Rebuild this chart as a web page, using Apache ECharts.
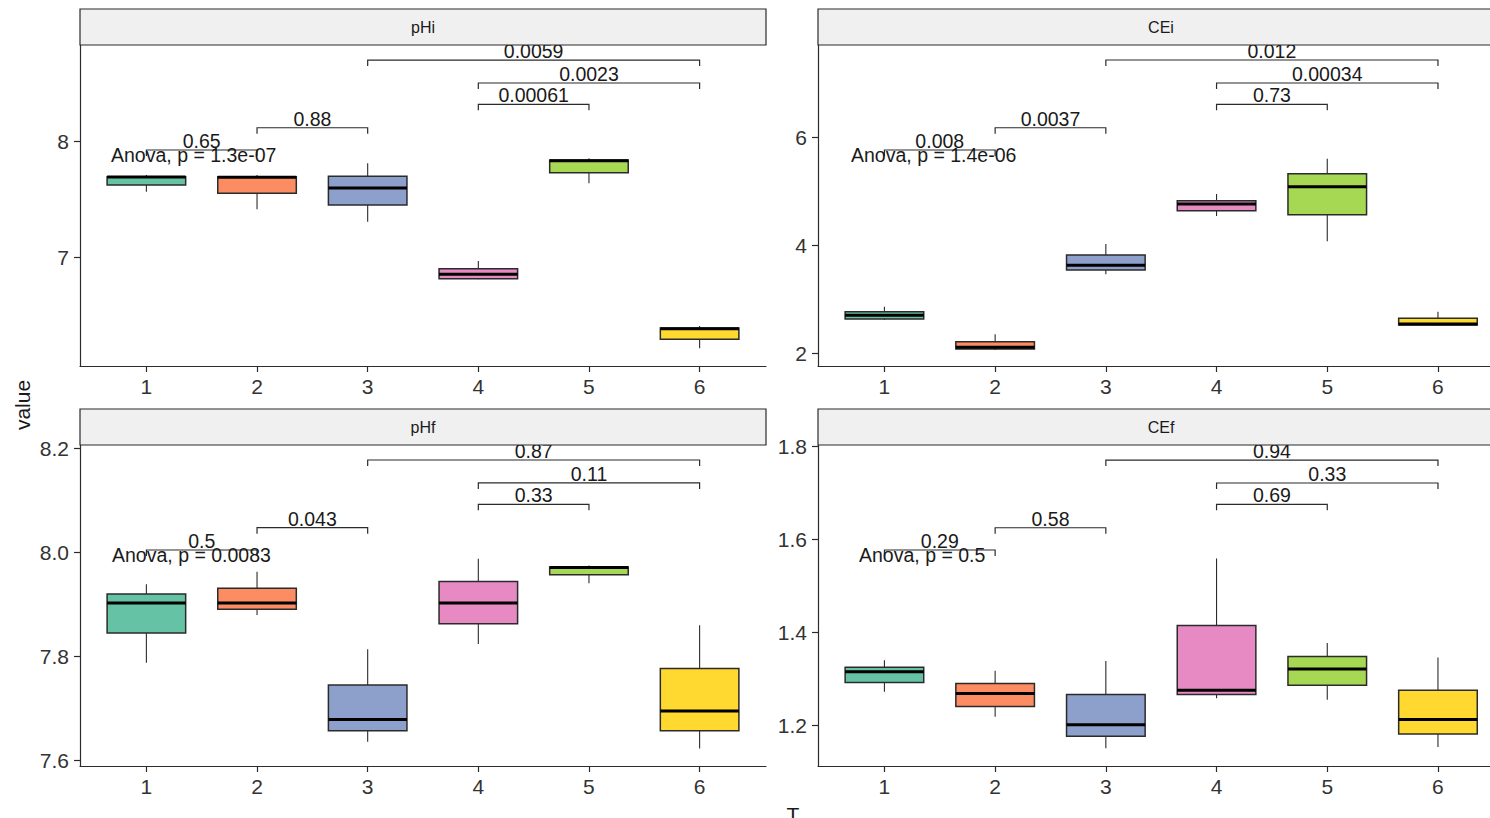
<!DOCTYPE html>
<html>
<head>
<meta charset="utf-8">
<script src="https://cdn.jsdelivr.net/npm/echarts@6/dist/echarts.min.js"></script>
<style>
html,body{margin:0;padding:0;background:#fff;}
#chart{width:1490px;height:818px;}
</style>
</head>
<body>
<div id="chart"></div>
<script>
// ---------- DATA ----------
const categories = ['1', '2', '3', '4', '5', '6'];
const boxColors = ['#66C2A5', '#FC8D62', '#8DA0CB', '#E78AC3', '#A6D854', '#FFD92F'];
const panelNames = ['pHi', 'CEi', 'pHf', 'CEf'];

// box stats per category: [lower whisker, Q1, median, Q3, upper whisker]
const pHiStats = [
  [7.565, 7.622, 7.691, 7.694, 7.708],
  [7.414, 7.551, 7.688, 7.694, 7.708],
  [7.307, 7.451, 7.597, 7.697, 7.809],
  [6.813, 6.818, 6.856, 6.904, 6.970],
  [7.637, 7.728, 7.831, 7.837, 7.852],
  [6.221, 6.298, 6.389, 6.395, 6.412]
];
const CEiStats = [
  [2.620, 2.639, 2.707, 2.774, 2.867],
  [2.065, 2.083, 2.115, 2.219, 2.356],
  [3.467, 3.546, 3.633, 3.824, 4.028],
  [4.546, 4.644, 4.769, 4.830, 4.954],
  [4.078, 4.570, 5.089, 5.330, 5.607],
  [2.519, 2.528, 2.546, 2.652, 2.774]
];
const pHfStats = [
  [7.788, 7.845, 7.903, 7.920, 7.939],
  [7.880, 7.891, 7.903, 7.931, 7.963],
  [7.636, 7.657, 7.679, 7.745, 7.814],
  [7.824, 7.863, 7.903, 7.944, 7.988],
  [7.941, 7.957, 7.971, 7.972, 7.975],
  [7.623, 7.657, 7.695, 7.777, 7.860]
];
const CEfStats = [
  [1.272, 1.292, 1.315, 1.325, 1.340],
  [1.218, 1.240, 1.268, 1.290, 1.317],
  [1.150, 1.176, 1.201, 1.266, 1.338],
  [1.258, 1.266, 1.275, 1.415, 1.559],
  [1.255, 1.286, 1.321, 1.348, 1.377],
  [1.153, 1.181, 1.212, 1.275, 1.346]
];

// pairwise comparisons (category positions) and their p-values / bracket heights
const comparisons = [[1, 2], [2, 3], [4, 5], [4, 6], [3, 6]];
const pHiPvals = ['0.65', '0.88', '0.00061', '0.0023', '0.0059'];
const CEiPvals = ['0.008', '0.0037', '0.73', '0.00034', '0.012'];
const pHfPvals = ['0.5', '0.043', '0.33', '0.11', '0.87'];
const CEfPvals = ['0.29', '0.58', '0.69', '0.33', '0.94'];
const pHiBracketY = [7.923, 8.114, 8.315, 8.498, 8.695];
const CEiBracketY = [5.769, 6.181, 6.615, 7.009, 7.435];
const pHfBracketY = [8.0048, 8.0477, 8.0927, 8.1337, 8.1779];
const CEfBracketY = [1.5774, 1.6254, 1.6759, 1.7218, 1.7713];

const anovaLabels = ['Anova, p = 1.3e-07', 'Anova, p = 1.4e-06', 'Anova, p = 0.0083', 'Anova, p = 0.5'];

// axis ranges and ticks
const pHiRange = [6.069, 8.824];
const CEiRange = [1.769, 7.713];
const pHfRange = [7.5894, 8.2067];
const CEfRange = [1.112, 1.8037];
const xRangeFull = [0.4, 6.6];      // full facet x range
const xRangeClipped = [0.4, 6.47];  // right facets: cut at the picture's right edge
const pHiTicks = [7, 8];
const pHiTickLabels = ['7', '8'];
const CEiTicks = [2, 4, 6];
const CEiTickLabels = ['2', '4', '6'];
const pHfTicks = [7.6, 7.8, 8.0, 8.2];
const pHfTickLabels = ['7.6', '7.8', '8.0', '8.2'];
const CEfTicks = [1.2, 1.4, 1.6, 1.8];
const CEfTickLabels = ['1.2', '1.4', '1.6', '1.8'];
const xTicks = [1, 2, 3, 4, 5, 6];

const xAxisTitle = 'T';
const yAxisTitle = 'value';

// ---------- LAYOUT / STYLE ----------
const FONT = '"Liberation Sans", Arial, Helvetica, sans-serif';
const BOX_WIDTH = 0.71;
const TIP = 6;
const gridPos = [
  {left: 80, top: 45, width: 686},
  {left: 818, top: 45, width: 672},
  {left: 80, top: 445, width: 686},
  {left: 818, top: 445, width: 672}
];
const GH = 321, STRIP_H = 36;
const anovaOffsets = [31, 33, 32, 41];

const panels = [
  {stats: pHiStats, pvals: pHiPvals, by: pHiBracketY, range: pHiRange, xr: xRangeFull, ticks: pHiTicks, labels: pHiTickLabels},
  {stats: CEiStats, pvals: CEiPvals, by: CEiBracketY, range: CEiRange, xr: xRangeClipped, ticks: CEiTicks, labels: CEiTickLabels},
  {stats: pHfStats, pvals: pHfPvals, by: pHfBracketY, range: pHfRange, xr: xRangeFull, ticks: pHfTicks, labels: pHfTickLabels},
  {stats: CEfStats, pvals: CEfPvals, by: CEfBracketY, range: CEfRange, xr: xRangeClipped, ticks: CEfTicks, labels: CEfTickLabels}
];

const AX = '#2b2b2b';

function boxRender(params, api) {
  const x = api.value(0);
  const lo = api.coord([x, api.value(1)]);
  const q1 = api.coord([x, api.value(2)]);
  const md = api.coord([x, api.value(3)]);
  const q3 = api.coord([x, api.value(4)]);
  const hi = api.coord([x, api.value(5)]);
  const w = api.size([BOX_WIDTH, 0])[0];
  const cx = md[0];
  return {
    type: 'group',
    children: [
      {type: 'line', shape: {x1: cx, y1: hi[1], x2: cx, y2: q3[1]}, style: {stroke: AX, lineWidth: 1.1}},
      {type: 'line', shape: {x1: cx, y1: q1[1], x2: cx, y2: lo[1]}, style: {stroke: AX, lineWidth: 1.1}},
      {type: 'rect', shape: {x: cx - w / 2, y: q3[1], width: w, height: q1[1] - q3[1]},
        style: {fill: boxColors[params.dataIndex], stroke: AX, lineWidth: 1.5}},
      {type: 'line', shape: {x1: cx - w / 2, y1: md[1], x2: cx + w / 2, y2: md[1]}, style: {stroke: '#000', lineWidth: 3}}
    ]
  };
}

function makeBracketRender(pvals) {
  return function (params, api) {
    const a = api.coord([api.value(0), api.value(2)]);
    const b = api.coord([api.value(1), api.value(2)]);
    return {
      type: 'group',
      children: [
        {type: 'polyline', shape: {points: [[a[0], a[1] + TIP], [a[0], a[1]], [b[0], b[1]], [b[0], b[1] + TIP]]},
          style: {stroke: AX, lineWidth: 1.2, fill: null}},
        {type: 'text', x: (a[0] + b[0]) / 2, y: a[1] - 9,
          style: {text: pvals[params.dataIndex], fill: '#1a1a1a', font: '19.5px ' + FONT, align: 'center', verticalAlign: 'middle'}}
      ]
    };
  };
}

const grids = [], xAxes = [], yAxes = [], series = [], graphics = [];

panels.forEach((p, i) => {
  const g = gridPos[i];
  grids.push({left: g.left, top: g.top, width: g.width, height: GH, containLabel: false});
  xAxes.push({
    type: 'value', gridIndex: i, min: p.xr[0], max: p.xr[1],
    axisLine: {show: true, lineStyle: {color: AX, width: 1.2}},
    axisTick: {show: true, length: 6, lineStyle: {color: AX, width: 1.2}, customValues: xTicks},
    axisLabel: {show: true, customValues: xTicks, margin: 10, color: '#333', fontSize: 21, fontFamily: FONT,
      formatter: v => categories[Math.round(v) - 1]},
    splitLine: {show: false}
  });
  yAxes.push({
    type: 'value', gridIndex: i, min: p.range[0], max: p.range[1],
    axisLine: {show: true, lineStyle: {color: AX, width: 1.2}},
    axisTick: {show: true, length: 6, lineStyle: {color: AX, width: 1.2}, customValues: p.ticks},
    axisLabel: {show: true, customValues: p.ticks, margin: 11, color: '#333', fontSize: 21, fontFamily: FONT,
      formatter: v => { const k = p.ticks.findIndex(t => Math.abs(t - v) < 1e-6); return k >= 0 ? p.labels[k] : ''; }},
    splitLine: {show: false}
  });
  series.push({
    type: 'custom', xAxisIndex: i, yAxisIndex: i, renderItem: boxRender,
    encode: {x: 0, y: [1, 2, 3, 4, 5]},
    data: categories.map((c, k) => [k + 1].concat(p.stats[k])),
    z: 3
  });
  series.push({
    type: 'custom', xAxisIndex: i, yAxisIndex: i, renderItem: makeBracketRender(p.pvals),
    encode: {x: [0, 1], y: 2},
    data: comparisons.map((c, k) => [c[0], c[1], p.by[k]]),
    z: 4
  });
  // strip (full facet width, may run past the picture's right edge)
  const fullW = 686;
  graphics.push({
    type: 'rect', z: 100,
    shape: {x: g.left, y: g.top - STRIP_H, width: fullW, height: STRIP_H},
    style: {fill: '#F0F0F0', stroke: AX, lineWidth: 1.2}
  });
  graphics.push({
    type: 'text', z: 101,
    x: g.left + fullW / 2, y: g.top - STRIP_H / 2,
    style: {text: panelNames[i], fill: '#1a1a1a', font: '16px ' + FONT, align: 'center', verticalAlign: 'middle'}
  });
  // anova label
  graphics.push({
    type: 'text', z: 50,
    x: g.left + anovaOffsets[i], y: g.top + 110,
    style: {text: anovaLabels[i], fill: '#1a1a1a', font: '19.5px ' + FONT, align: 'left', verticalAlign: 'middle'}
  });
});

graphics.push({
  type: 'text', z: 50, x: 22, y: 405, rotation: Math.PI / 2,
  style: {text: yAxisTitle, fill: '#1a1a1a', font: '21px ' + FONT, align: 'center', verticalAlign: 'middle'}
});
graphics.push({
  type: 'text', z: 50, x: 793, y: 814,
  style: {text: xAxisTitle, fill: '#1a1a1a', font: '21px ' + FONT, align: 'center', verticalAlign: 'middle'}
});

const chart = echarts.init(document.getElementById('chart'), null, {renderer: 'svg'});
chart.setOption({
  animation: false,
  backgroundColor: '#ffffff',
  grid: grids,
  xAxis: xAxes,
  yAxis: yAxes,
  series: series,
  graphic: {elements: graphics}
});
</script>
</body>
</html>
